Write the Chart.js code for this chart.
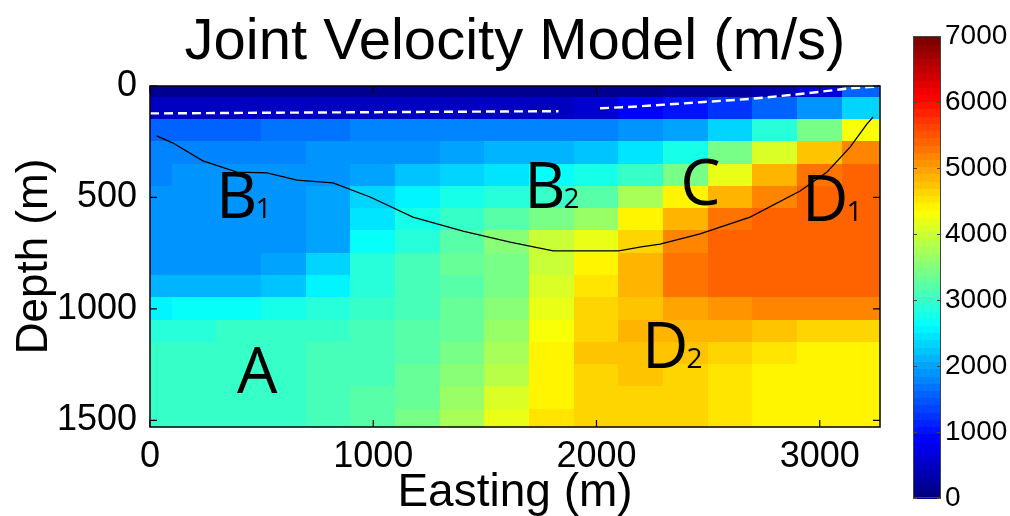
<!DOCTYPE html>
<html>
<head>
<meta charset="utf-8">
<script src="https://cdn.jsdelivr.net/npm/chart.js@4.4.1/dist/chart.umd.min.js"></script>
<style>
  html, body { margin: 0; padding: 0; background: #fff; }
  #wrap { position: relative; width: 1010px; height: 516px; }
  #main { position: absolute; left: 0; top: 0; }
  #cbar { position: absolute; left: 880px; top: 0; }
</style>
</head>
<body>
<div id="wrap">
  <canvas id="main" width="1010" height="516"></canvas>
  <canvas id="cbar" width="130" height="516"></canvas>
</div>
<script>
// velocity grid (m/s), one row per depth
const eastings = [0, 200, 400, 600, 800, 1000, 1200, 1400, 1600, 1800, 2000, 2200, 2400, 2600, 2800, 3000, 3200];
const depths = [0, 100, 200, 300, 400, 500, 600, 700, 800, 900, 1000, 1100, 1200, 1300, 1400, 1500];
const velocity = [
  [150, 150, 150, 150, 150, 150, 150, 150, 150, 150, 150, 200, 250, 300, 400, 700, 1600],
  [500, 500, 500, 500, 500, 500, 500, 500, 500, 500, 650, 900, 1050, 1250, 1550, 1900, 2300],
  [1550, 1550, 1600, 1650, 1700, 1750, 1750, 1780, 1800, 1800, 1800, 1900, 2050, 2300, 2850, 3400, 4300],
  [1750, 1750, 1800, 1850, 1900, 1950, 1950, 2050, 2100, 2150, 2200, 2500, 2800, 3400, 4150, 4800, 5200],
  [1850, 1880, 1900, 1920, 1950, 2050, 2250, 2350, 2500, 2650, 2800, 3000, 3450, 4200, 4850, 5300, 5400],
  [1900, 1920, 1950, 1950, 2000, 2300, 2550, 2750, 2850, 3050, 3200, 3750, 4450, 4850, 5200, 5400, 5400],
  [1950, 1950, 1950, 1950, 2000, 2500, 2800, 3000, 3250, 3450, 3700, 4450, 4900, 5350, 5400, 5400, 5400],
  [1950, 1950, 1950, 1950, 2050, 2650, 2950, 3200, 3550, 3950, 4250, 4650, 5200, 5400, 5420, 5420, 5420],
  [1950, 1950, 1950, 2000, 2300, 2900, 3100, 3300, 3450, 3950, 4450, 4900, 5350, 5420, 5420, 5420, 5420],
  [2150, 2150, 2150, 2200, 2600, 2950, 3100, 3250, 3450, 4100, 4550, 4900, 5300, 5400, 5420, 5420, 5420],
  [2600, 2650, 2700, 2800, 2950, 3050, 3150, 3300, 3550, 4200, 4600, 4800, 4950, 5100, 5150, 5150, 5150],
  [2950, 2950, 3000, 3000, 3050, 3100, 3200, 3350, 3650, 4350, 4650, 4850, 4900, 4850, 4750, 4700, 4700],
  [3050, 3050, 3050, 3050, 3100, 3150, 3250, 3450, 3750, 4450, 4750, 4800, 4750, 4600, 4500, 4450, 4450],
  [3050, 3050, 3050, 3050, 3100, 3150, 3300, 3550, 3900, 4450, 4700, 4750, 4700, 4550, 4420, 4380, 4380],
  [3050, 3050, 3050, 3050, 3100, 3200, 3350, 3650, 4050, 4450, 4650, 4700, 4650, 4550, 4400, 4380, 4380],
  [3050, 3050, 3050, 3050, 3100, 3200, 3400, 3750, 4200, 4500, 4650, 4650, 4600, 4500, 4420, 4400, 4400]
];

// interface (black) and top of refractor (white dashed)
const boundaryX = [30, 103, 237, 390, 524, 659, 820, 986, 1178, 1402, 1613, 1806, 2100, 2200, 2285, 2464, 2688, 2912, 3033, 3136, 3212, 3239];
const boundaryY = [224, 256, 336, 386, 390, 422, 435, 498, 588, 651, 700, 740, 740, 722, 709, 664, 588, 471, 386, 274, 170, 139];
const dashLeftX = [0, 900, 1830];
const dashLeftY = [123, 118, 113];
const dashRightX = [2016, 2164, 2464, 2688, 2912, 3150, 3270];
const dashRightY = [100, 93, 73, 58, 36, 9, 2];

const xTicks = [0, 1000, 2000, 3000];
const yTicks = [0, 500, 1000, 1500];
const cbTicks = [0, 1000, 2000, 3000, 4000, 5000, 6000, 7000];
const vMax = 7000;

// region labels (anchor in easting / depth)
const labelMain = ['B', 'B', 'C', 'D', 'A', 'D'];
const labelSub = ['1', '2', '', '1', '', '2'];
const labelX = [296, 1676, 2375, 2921, 390, 2204];
const labelY = [592, 547, 534, 606, 1377, 1265];

const FONT = 'Liberation Sans';
Chart.defaults.font.family = FONT;

// matlab jet, 64 levels
function jetIndex(i) {
  const t = i / 63;
  const c = k => Math.round(255 * Math.max(0, Math.min(1, 1.5 - Math.abs(4 * t - k))));
  return `rgb(${c(3)},${c(2)},${c(1)})`;
}
function jet(v) {
  const i = Math.max(0, Math.min(63, Math.floor(v / vMax * 64)));
  return jetIndex(i);
}

const heatmap = {
  id: 'heatmap',
  beforeDatasetsDraw(chart) {
    const { ctx, chartArea: a, scales: { x, y } } = chart;
    const hx = (eastings[1] - eastings[0]) / 2;
    const hy = (depths[1] - depths[0]) / 2;
    ctx.save();
    ctx.beginPath();
    ctx.rect(a.left, a.top, a.width, a.height);
    ctx.clip();
    depths.forEach((d, j) => {
      eastings.forEach((e, i) => {
        const x0 = x.getPixelForValue(e - hx), x1 = x.getPixelForValue(e + hx);
        const y0 = y.getPixelForValue(d - hy), y1 = y.getPixelForValue(d + hy);
        ctx.fillStyle = jet(velocity[j][i]);
        ctx.fillRect(Math.floor(x0), Math.floor(Math.min(y0, y1)),
          Math.ceil(x1 - x0) + 1, Math.ceil(Math.abs(y1 - y0)) + 1);
      });
    });
    ctx.restore();
  }
};

const regionLabels = {
  id: 'regionLabels',
  afterDatasetsDraw(chart) {
    const { ctx, scales: { x, y } } = chart;
    ctx.save();
    ctx.fillStyle = '#000';
    ctx.textBaseline = 'alphabetic';
    ctx.textAlign = 'left';
    labelMain.forEach((t, i) => {
      const px = x.getPixelForValue(labelX[i]);
      const py = y.getPixelForValue(labelY[i]);
      ctx.font = '64px "Open Sans"';
      ctx.fillText(t, px, py);
      if (labelSub[i]) {
        const w = ctx.measureText(t).width;
        ctx.font = '28px "Open Sans"';
        ctx.fillText(labelSub[i], px + w - 2, py);
      }
    });
    ctx.restore();
  }
};

const frame = {
  id: 'frame',
  afterDraw(chart) {
    const { ctx, chartArea: a, scales: { x, y } } = chart;
    ctx.save();
    ctx.strokeStyle = '#000';
    ctx.lineWidth = 1.5;
    ctx.strokeRect(a.left, a.top, a.width, a.height);
    ctx.lineWidth = 1.2;
    ctx.beginPath();
    xTicks.forEach(v => {
      const px = x.getPixelForValue(v);
      ctx.moveTo(px, a.bottom); ctx.lineTo(px, a.bottom - 7);
      ctx.moveTo(px, a.top); ctx.lineTo(px, a.top + 7);
    });
    yTicks.forEach(v => {
      const py = y.getPixelForValue(v);
      ctx.moveTo(a.left, py); ctx.lineTo(a.left + 7, py);
      ctx.moveTo(a.right, py); ctx.lineTo(a.right - 7, py);
    });
    ctx.stroke();
    ctx.restore();
  }
};

const pts = (xs, ys) => xs.map((v, i) => ({ x: v, y: ys[i] }));
const plain = v => String(v);

new Chart(document.getElementById('main'), {
  type: 'scatter',
  data: {
    datasets: [
      { data: pts(boundaryX, boundaryY), showLine: true, borderColor: '#000', borderWidth: 1.3, pointRadius: 0 },
      { data: pts(dashLeftX, dashLeftY), showLine: true, borderColor: '#fff', borderWidth: 2.4, borderDash: [9, 5], pointRadius: 0 },
      { data: pts(dashRightX, dashRightY), showLine: true, borderColor: '#fff', borderWidth: 2.4, borderDash: [9, 5], pointRadius: 0 }
    ]
  },
  options: {
    responsive: false,
    animation: false,
    layout: { padding: { right: 130 } },
    plugins: {
      legend: { display: false },
      tooltip: { enabled: false },
      title: {
        display: true,
        fullSize: false,
        text: 'Joint Velocity Model (m/s)',
        color: '#000',
        font: { family: FONT, size: 58, weight: 'normal', lineHeight: 1.2 },
        padding: { top: 8, bottom: 8.4 }
      }
    },
    scales: {
      x: {
        type: 'linear', min: 0, max: 3270,
        grid: { display: false, drawTicks: false },
        border: { display: false },
        afterBuildTicks: s => { s.ticks = xTicks.map(v => ({ value: v })); },
        afterFit: s => { s.height = 89; },
        ticks: { color: '#000', padding: 12, maxRotation: 0, font: { size: 36, lineHeight: 1 }, callback: plain },
        title: { display: true, text: 'Easting (m)', color: '#000', font: { size: 46, lineHeight: 1 }, padding: { top: 0, bottom: 0 } }
      },
      y: {
        type: 'linear', min: 0, max: 1530, reverse: true,
        grid: { display: false, drawTicks: false },
        border: { display: false },
        afterBuildTicks: s => { s.ticks = yTicks.map(v => ({ value: v })); },
        afterFit: s => { s.width = 150; },
        ticks: { color: '#000', padding: 13, font: { size: 36, lineHeight: 1 }, callback: plain },
        title: { display: true, text: 'Depth (m)', color: '#000', font: { size: 44, lineHeight: 1 }, padding: { top: 13, bottom: 0 } }
      }
    }
  },
  plugins: [heatmap, regionLabels, frame]
});

// COLORBAR
const colorbar = {
  id: 'colorbar',
  afterDraw(chart) {
    const { ctx, chartArea: a, scales: { y } } = chart;
    ctx.save();
    for (let i = 0; i < 64; i++) {
      const y0 = y.getPixelForValue(i * vMax / 64);
      const y1 = y.getPixelForValue((i + 1) * vMax / 64);
      ctx.fillStyle = jetIndex(i);
      ctx.fillRect(a.left, Math.floor(y1), a.width, Math.ceil(y0 - y1) + 1);
    }
    ctx.strokeStyle = '#444';
    ctx.lineWidth = 1;
    ctx.strokeRect(a.left + 0.5, a.top + 0.5, a.width - 1, a.height - 1);
    ctx.beginPath();
    cbTicks.forEach(v => {
      const py = Math.round(y.getPixelForValue(v)) + 0.5;
      ctx.moveTo(a.left, py); ctx.lineTo(a.left + 4, py);
      ctx.moveTo(a.right, py); ctx.lineTo(a.right - 4, py);
    });
    ctx.stroke();
    ctx.restore();
  }
};

new Chart(document.getElementById('cbar'), {
  type: 'scatter',
  data: { datasets: [] },
  options: {
    responsive: false,
    animation: false,
    layout: { padding: { left: 33, top: 36, bottom: 10, right: 0 } },
    plugins: { legend: { display: false }, tooltip: { enabled: false } },
    scales: {
      x: { display: false, min: 0, max: 1 },
      y: {
        position: 'right', min: 0, max: vMax,
        grid: { display: false, drawTicks: false },
        border: { display: false },
        afterBuildTicks: s => { s.ticks = cbTicks.map(v => ({ value: v })); },
        afterFit: s => { s.width = 69; },
        ticks: { color: '#000', padding: 4, font: { size: 28, lineHeight: 1 }, callback: plain }
      }
    }
  },
  plugins: [colorbar]
});
</script>
</body>
</html>
